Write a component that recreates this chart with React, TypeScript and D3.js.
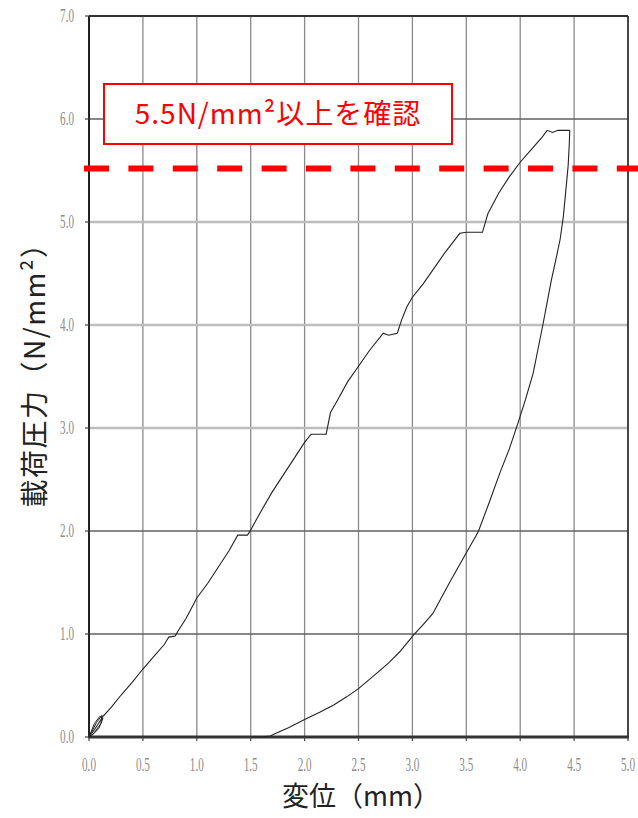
import React from "react";
import * as d3 from "d3";

const W = 638;
const H = 818;
const margin = { left: 89, top: 16, right: 10, bottom: 81 };

const xTicks = [0, 0.5, 1.0, 1.5, 2.0, 2.5, 3.0, 3.5, 4.0, 4.5, 5.0];
const yTicks = [0, 1, 2, 3, 4, 5, 6, 7];
const lightYGrid = [3, 4, 5];
const threshold = 5.5;

const initialCycles: [number, number][] = [
  [0, 0], [0.07, 0.14], [0.12, 0.21], [0.11, 0.13], [0.04, 0.03], [0, 0],
  [0.05, 0.13], [0.1, 0.2], [0.13, 0.18], [0.09, 0.08], [0.02, 0.01], [0, 0],
];

const loading: [number, number][] = [
  [0, 0], [0.05, 0.07], [0.1, 0.15], [0.13, 0.2], [0.2, 0.28], [0.3, 0.41],
  [0.4, 0.53], [0.5, 0.66], [0.6, 0.78], [0.7, 0.9], [0.74, 0.97], [0.8, 0.98],
  [0.82, 1.02], [0.9, 1.15], [1.0, 1.35], [1.1, 1.49], [1.2, 1.65], [1.3, 1.81],
  [1.38, 1.96], [1.47, 1.96], [1.5, 2.01], [1.6, 2.2], [1.7, 2.38], [1.8, 2.54],
  [1.9, 2.7], [2.0, 2.86], [2.06, 2.94], [2.2, 2.94], [2.24, 3.15], [2.3, 3.26],
  [2.4, 3.45], [2.5, 3.6], [2.6, 3.75], [2.73, 3.92], [2.78, 3.9], [2.86, 3.92],
  [2.9, 4.05], [2.95, 4.18], [3.0, 4.27], [3.1, 4.4], [3.2, 4.55], [3.3, 4.7],
  [3.44, 4.89], [3.5, 4.9], [3.65, 4.9], [3.7, 5.08], [3.8, 5.28], [3.9, 5.44],
  [4.0, 5.58], [4.1, 5.7], [4.2, 5.82], [4.25, 5.89], [4.3, 5.87], [4.35, 5.89],
  [4.46, 5.89],
];

const unloading: [number, number][] = [
  [4.46, 5.89], [4.455, 5.75], [4.445, 5.55], [4.43, 5.38], [4.4, 5.05], [4.37, 4.83],
  [4.33, 4.63], [4.29, 4.44], [4.21, 4.0], [4.12, 3.53], [4.05, 3.28], [3.98, 3.05],
  [3.9, 2.8], [3.81, 2.56], [3.71, 2.27], [3.61, 1.99], [3.49, 1.77], [3.35, 1.51],
  [3.19, 1.2], [3.1, 1.09], [3.01, 0.99], [2.885, 0.83], [2.78, 0.72], [2.67, 0.62],
  [2.5, 0.47], [2.39, 0.39], [2.27, 0.31], [2.14, 0.24], [2.0, 0.17], [1.85, 0.09],
  [1.74, 0.04], [1.68, 0.01], [1.6, 0.0], [1.5, 0.0],
];

const annotationText = "5.5N/mm²以上を確認";
const yTitle = "載荷圧力（N/mm²）";
const xTitle = "変位（mm）";

export default function App() {
  const x = d3.scaleLinear().domain([0, 5]).range([margin.left, W - margin.right]);
  const y = d3.scaleLinear().domain([0, 7]).range([H - margin.bottom, margin.top]);
  const line = d3
    .line<[number, number]>()
    .x((d) => x(d[0]))
    .y((d) => y(d[1]));

  const tickFont = "'Liberation Serif', serif";
  const cjk = "'Noto Sans CJK JP', 'Noto Sans', sans-serif";

  return (
    <svg
      width={W}
      height={H}
      style={{ position: "absolute", left: 0, top: 0, background: "#fff" }}
    >
      {xTicks.slice(1, -1).map((t) => (
        <line key={"vx" + t} x1={x(t)} x2={x(t)} y1={y(7)} y2={y(0)} stroke="#8a8a8a" strokeWidth={1.3} />
      ))}
      {yTicks.slice(1, -1).map((t) => {
        const light = lightYGrid.includes(t);
        return (
          <line
            key={"hy" + t}
            x1={x(0)}
            x2={x(5)}
            y1={y(t)}
            y2={y(t)}
            stroke={light ? "#bdbdbd" : "#606060"}
            strokeWidth={light ? 2.6 : 1.4}
          />
        );
      })}
      <line x1={x(0)} x2={x(5)} y1={y(7)} y2={y(7)} stroke="#333" strokeWidth={1.8} />
      <line x1={x(5)} x2={x(5)} y1={y(7)} y2={y(0)} stroke="#333" strokeWidth={1.8} />
      <line x1={x(0)} x2={x(0)} y1={y(7)} y2={y(0)} stroke="#222" strokeWidth={2} />
      <line x1={x(0) - 1} x2={x(5) + 1} y1={y(0)} y2={y(0)} stroke="#333" strokeWidth={3} />
      {xTicks.map((t) => (
        <line key={"tx" + t} x1={x(t)} x2={x(t)} y1={y(0)} y2={y(0) + 4} stroke="#444" strokeWidth={1.2} />
      ))}
      {yTicks.map((t) => (
        <line key={"ty" + t} x1={x(0) - 4} x2={x(0)} y1={y(t)} y2={y(t)} stroke="#444" strokeWidth={1.2} />
      ))}

      {yTicks.map((t) => (
        <text
          key={"ly" + t}
          transform={`translate(${x(0) - 15},${y(t) + 6}) scale(0.62,1)`}
          textAnchor="end"
          fontFamily={tickFont}
          fontSize={18}
          fill="#8c8c8c"
        >
          {t.toFixed(1)}
        </text>
      ))}
      {xTicks.map((t) => (
        <text
          key={"lx" + t}
          transform={`translate(${x(t)},${y(0) + 34}) scale(0.62,1)`}
          textAnchor="middle"
          fontFamily={tickFont}
          fontSize={18}
          fill="#8c8c8c"
        >
          {t.toFixed(1)}
        </text>
      ))}

      <path d={line(initialCycles) || ""} fill="none" stroke="#222" strokeWidth={1} />
      <path d={line(loading) || ""} fill="none" stroke="#222" strokeWidth={1.1} />
      <path d={line(unloading) || ""} fill="none" stroke="#222" strokeWidth={1.1} />

      <line
        x1={x(0) - 5}
        x2={W}
        y1={y(threshold) - 2}
        y2={y(threshold) - 2}
        stroke="#ff0000"
        strokeWidth={6}
        strokeDasharray="25 19.4"
      />

      <rect x={104} y={84} width={348} height={60} fill="#fff" stroke="#ff0000" strokeWidth={2} />
      <text
        x={278}
        y={124}
        textAnchor="middle"
        fontFamily={cjk}
        fontSize={28}
        letterSpacing={1}
        fill="#ff0000"
      >
        {annotationText}
      </text>

      <text
        transform={`translate(45,${368}) rotate(-90)`}
        textAnchor="middle"
        fontFamily={cjk}
        fontSize={28}
        letterSpacing={1.5}
        fill="#222"
      >
        {yTitle}
      </text>
      <text x={361} y={806} textAnchor="middle" fontFamily={cjk} fontSize={27} fill="#222">
        {xTitle}
      </text>
    </svg>
  );
}
